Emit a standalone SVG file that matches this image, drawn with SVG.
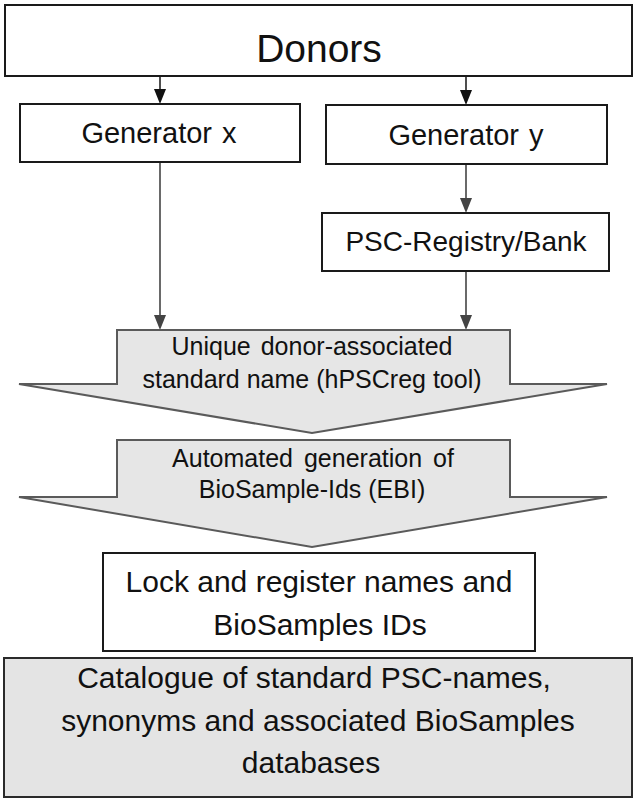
<svg xmlns="http://www.w3.org/2000/svg" width="636" height="800" viewBox="0 0 636 800">
<style>
text{font-family:"Liberation Sans",Arial,sans-serif;fill:#111;text-anchor:middle}
.box{fill:#fff;stroke:#1a1a1a;stroke-width:2}
.gbox{fill:#e4e4e4;stroke:#2a2a2a;stroke-width:2}
.big{fill:#e6e6e6;stroke:#5a5a5a;stroke-width:2;stroke-linejoin:miter}
.ln{stroke:#222;stroke-width:1.6;fill:none}
.lg{stroke:#444;stroke-width:1.6;fill:none}
</style>
<rect width="636" height="800" fill="#fff"/>
<g id="connectors">
<line class="ln" x1="160" y1="76" x2="160" y2="90"/>
<polygon points="154,89 166,89 160,104" fill="#111"/>
<line class="ln" x1="466" y1="76" x2="466" y2="91"/>
<polygon points="460,90 472,90 466,105" fill="#111"/>
<line class="lg" x1="160" y1="162" x2="160" y2="316"/>
<polygon points="154,315 166,315 160,330" fill="#444"/>
<line class="lg" x1="466" y1="164" x2="466" y2="199"/>
<polygon points="460,198 472,198 466,213" fill="#444"/>
<line class="lg" x1="466" y1="271" x2="466" y2="316"/>
<polygon points="460,315 472,315 466,330" fill="#444"/>
</g>
<g id="donors">
<rect class="box" x="5" y="5" width="627" height="71"/>
<text x="319" y="62" font-size="39">Donors</text>
</g>
<g id="generator-x">
<rect class="box" x="20" y="104" width="280" height="58"/>
<text x="159" y="143" font-size="29" word-spacing="2">Generator x</text>
</g>
<g id="generator-y">
<rect class="box" x="326" y="105" width="281" height="59"/>
<text x="466" y="145" font-size="29" word-spacing="2">Generator y</text>
</g>
<g id="psc-registry">
<rect class="box" x="322" y="213" width="287" height="58"/>
<text x="466" y="251" font-size="28">PSC-Registry/Bank</text>
</g>
<g id="unique-name">
<polygon class="big" points="117,330 510,330 510,384 607,384 312,433 19,384 117,384"/>
<text x="312" y="355" font-size="25" word-spacing="3">Unique donor-associated</text>
<text x="312" y="388" font-size="25">standard name (hPSCreg tool)</text>
</g>
<g id="biosample-ids">
<polygon class="big" points="117,440 510,440 510,497 607,497 312,547 19,497 117,497"/>
<text x="313" y="467" font-size="25" word-spacing="4">Automated generation of</text>
<text x="312" y="498" font-size="25">BioSample-Ids (EBI)</text>
</g>
<g id="lock-register">
<rect class="box" x="103" y="553" width="432" height="98"/>
<text x="319" y="592" font-size="30">Lock and register names and</text>
<text x="320" y="635" font-size="30">BioSamples IDs</text>
</g>
<g id="catalogue">
<rect class="gbox" x="4" y="658" width="628" height="139"/>
<text x="314" y="688" font-size="30">Catalogue of standard PSC-names,</text>
<text x="318" y="731" font-size="30">synonyms and associated BioSamples</text>
<text x="311" y="773" font-size="30">databases</text>
</g>
</svg>
